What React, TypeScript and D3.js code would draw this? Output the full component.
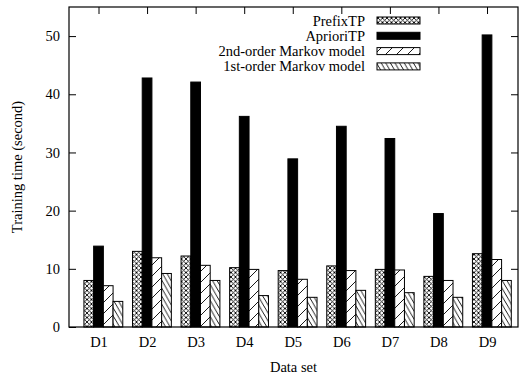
import { useEffect, useRef } from "react";
import * as d3 from "d3";

const datasets = ["D1", "D2", "D3", "D4", "D5", "D6", "D7", "D8", "D9"];
const seriesNames = ["PrefixTP", "AprioriTP", "2nd-order Markov model", "1st-order Markov model"];
const prefixTP = [8.0, 13.0, 12.2, 10.2, 9.7, 10.5, 9.9, 8.7, 12.6];
const aprioriTP = [13.9, 42.8, 42.1, 36.2, 28.9, 34.5, 32.4, 19.5, 50.2];
const markov2 = [7.1, 11.9, 10.6, 9.9, 8.2, 9.7, 9.8, 8.0, 11.6];
const markov1 = [4.4, 9.2, 8.0, 5.4, 5.1, 6.3, 5.9, 5.1, 8.0];
const yTicks = [0, 10, 20, 30, 40, 50];

const fills = ["url(#pat-cross)", "#000", "url(#pat-slash)", "url(#pat-back)"];

export default function App() {
	const svgRef = useRef<SVGSVGElement>(null);

	useEffect(() => {
		if (!svgRef.current) return;
		const width = 522;
		const height = 379;
		const margin = { top: 7, right: 4, bottom: 52, left: 69 };
		const innerWidth = width - margin.left - margin.right;
		const innerHeight = height - margin.top - margin.bottom;
		const font = "Liberation Serif, Times New Roman, DejaVu Serif, serif";

		const svg = d3.select(svgRef.current);
		svg.selectAll("*").remove();
		svg.attr("width", width).attr("height", height)
			.attr("font-family", font)
			.attr("font-size", 14.5);

		// hatch patterns
		const defs = svg.append("defs");
		const cross = defs.append("pattern")
			.attr("id", "pat-cross")
			.attr("patternUnits", "userSpaceOnUse")
			.attr("width", 4.5)
			.attr("height", 4.5);
		cross.append("rect").attr("width", 4.5).attr("height", 4.5).attr("fill", "#fff");
		cross.append("path").attr("d", "M0,0L4.5,4.5M4.5,0L0,4.5")
			.attr("stroke", "#000").attr("stroke-width", 0.9);

		const slash = defs.append("pattern")
			.attr("id", "pat-slash")
			.attr("patternUnits", "userSpaceOnUse")
			.attr("width", 11)
			.attr("height", 11);
		slash.append("rect").attr("width", 11).attr("height", 11).attr("fill", "#fff");
		slash.append("path").attr("d", "M0,11L11,0M-2,2L2,-2M9,13L13,9")
			.attr("stroke", "#000").attr("stroke-width", 0.9);

		const back = defs.append("pattern")
			.attr("id", "pat-back")
			.attr("patternUnits", "userSpaceOnUse")
			.attr("width", 4.6)
			.attr("height", 8);
		back.append("rect").attr("width", 4.6).attr("height", 8).attr("fill", "#fff");
		back.append("path").attr("d", "M0,0L4.6,8M-4.6,0L0,8M4.6,0L9.2,8")
			.attr("stroke", "#000").attr("stroke-width", 0.9);

		const g = svg.append("g")
			.attr("transform", `translate(${margin.left},${margin.top})`);

		const xScale = d3.scaleLinear()
			.domain([0.3925, 9.638])
			.range([0, innerWidth]);
		const yScale = d3.scaleLinear()
			.domain([0, 55])
			.range([innerHeight, 0]);

		const tickPos = datasets.map((_, i) => i + 1);

		const styleAxis = (sel: d3.Selection<SVGGElement, unknown, null, undefined>) => {
			sel.attr("font-family", null).attr("font-size", null);
			sel.select(".domain").remove();
			sel.selectAll(".tick line").attr("stroke", "#000").attr("stroke-width", 1);
			sel.selectAll("text").attr("fill", "#000");
		};

		g.append("g")
			.call(d3.axisLeft(yScale).tickValues(yTicks).tickSize(-7).tickPadding(9))
			.call(styleAxis);
		g.append("g")
			.attr("transform", `translate(${innerWidth},0)`)
			.call(d3.axisRight(yScale).tickValues(yTicks.slice(1)).tickSize(-7).tickFormat(() => ""))
			.call(styleAxis);
		g.append("g")
			.call(d3.axisTop(xScale).tickValues(tickPos).tickSize(-7).tickFormat(() => ""))
			.call(styleAxis);
		g.append("g")
			.attr("transform", `translate(0,${innerHeight})`)
			.call(d3.axisBottom(xScale).tickValues(tickPos).tickSize(-7).tickPadding(10)
				.tickFormat((d) => datasets[(d as number) - 1]))
			.call(styleAxis);

		// bars
		const series = [prefixTP, aprioriTP, markov2, markov1];
		const barW = 0.2;
		series.forEach((values, s) => {
			g.append("g")
				.selectAll("rect")
				.data(values)
				.enter()
				.append("rect")
				.attr("x", (_, i) => xScale(i + 1 + (s - 1.5) * barW))
				.attr("y", (d) => yScale(d))
				.attr("width", xScale(barW) - xScale(0))
				.attr("height", (d) => innerHeight - yScale(d))
				.attr("fill", fills[s])
				.attr("stroke", "#000")
				.attr("stroke-width", 1);
		});

		// frame
		g.append("rect")
			.attr("width", innerWidth)
			.attr("height", innerHeight)
			.attr("fill", "none")
			.attr("stroke", "#000")
			.attr("stroke-width", 1.2);

		// legend
		const legend = svg.append("g");
		seriesNames.forEach((name, i) => {
			const cy = 20.5 + i * 15.3;
			legend.append("text")
				.attr("x", 365)
				.attr("y", cy)
				.attr("dy", "0.35em")
				.attr("text-anchor", "end")
				.text(name);
			legend.append("rect")
				.attr("x", 377)
				.attr("y", cy - 3.5)
				.attr("width", 43)
				.attr("height", 7)
				.attr("fill", fills[i])
				.attr("stroke", "#000")
				.attr("stroke-width", 1);
		});

		svg.append("text")
			.attr("transform", `translate(22,${margin.top + innerHeight / 2}) rotate(-90)`)
			.attr("text-anchor", "middle")
			.text("Training time (second)");

		svg.append("text")
			.attr("x", margin.left + innerWidth / 2)
			.attr("y", 372)
			.attr("text-anchor", "middle")
			.text("Data set");
	}, []);

	return (
		<div style={{ position: "absolute", left: 0, top: 0 }}>
			<svg ref={svgRef} style={{ display: "block", background: "#fff" }} />
		</div>
	);
}
